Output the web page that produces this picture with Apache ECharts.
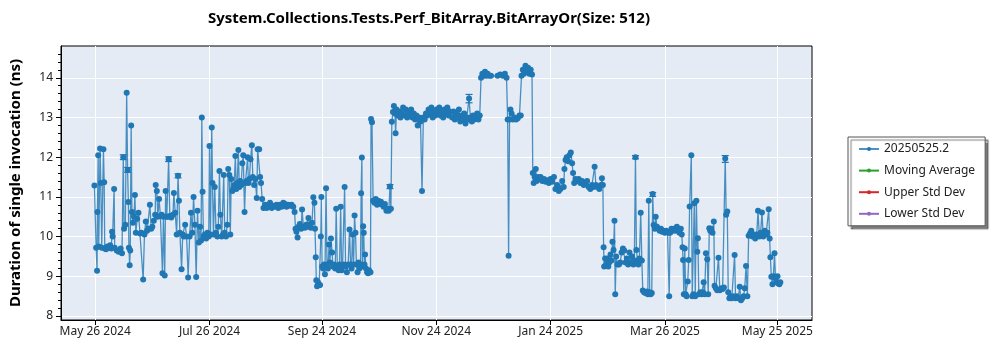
<!DOCTYPE html>
<html><head><meta charset="utf-8">
<script src="https://cdn.jsdelivr.net/npm/echarts@6/dist/echarts.min.js"></script>
<style>html,body{margin:0;padding:0;background:#fff}#c{width:1000px;height:350px}</style>
</head><body><div id="c"></div>
<script>
const chartTitle = 'System.Collections.Tests.Perf_BitArray.BitArrayOr(Size: 512)';
const yAxisTitle = 'Duration of single invocation (ns)';
const seriesNames = ['20250525.2', 'Moving Average', 'Upper Std Dev', 'Lower Std Dev'];
const seriesColors = ['#1f77b4', '#2ca02c', '#d62728', '#9467bd'];
const startDate = '2024-05-26';

// days after startDate for each measurement
const dayOffsets = [
-0.4,0.5,1.0,1.2,1.6,1.9,2.6,3.0,3.5,4.4,4.8,5.1,5.8,6.5,7.2,8.0,8.6,9.0,9.3,10.1,
10.4,11.5,12.5,13.6,14.3,15.0,15.4,16.1,16.8,17.3,17.7,18.0,18.4,18.7,19.2,19.6,20.1,20.7,21.2,21.7,
22.4,23.1,23.9,24.7,25.6,26.3,27.0,27.7,28.4,29.2,29.9,30.5,31.3,32.0,32.3,32.9,33.4,34.1,34.8,35.5,
35.9,36.4,37.1,37.6,38.2,38.7,39.2,39.8,40.6,41.5,42.0,42.7,43.5,44.2,44.7,45.2,46.1,46.7,47.3,48.0,
48.8,49.6,50.4,51.1,51.8,52.5,53.2,53.9,54.6,55.3,56.0,56.5,56.9,57.3,57.8,58.5,59.2,59.9,60.6,
61.0,61.5,62.2,62.6,63.1,63.8,64.5,65.2,65.7,66.3,66.8,67.5,68.2,68.6,69.1,69.8,70.5,71.0,71.6,72.1,
72.6,73.2,73.7,74.2,74.8,75.3,75.8,76.4,76.9,77.4,77.9,78.5,79.0,79.7,80.2,80.8,81.3,81.8,82.3,82.9,
83.6,84.1,84.8,85.4,86.2,86.7,87.5,88.0,88.5,89.1,89.8,90.7,91.5,92.4,93.3,94.2,95.1,96.0,96.8,97.7,
98.6,99.5,100.4,101.3,102.1,103.0,103.9,104.8,105.7,106.4,106.9,107.4,108.0,108.5,109.2,109.9,110.4,111.1,111.9,112.6,
113.3,113.8,114.3,115.1,115.7,116.4,117.0,117.3,117.7,118.0,118.4,118.9,119.5,120.0,120.4,120.7,121.1,121.6,122.1,122.6,
123.2,123.7,124.2,124.8,125.3,125.8,126.4,126.9,127.6,128.1,128.6,129.2,129.9,130.4,131.0,131.5,132.0,132.6,133.1,133.6,
134.3,135.0,135.7,136.3,136.8,137.3,137.9,138.4,138.9,139.4,140.0,140.5,141.0,141.6,141.9,142.3,142.6,143.0,143.3,143.7,
144.0,144.5,145.1,145.6,146.1,146.9,147.2,147.7,148.3,149.0,149.7,150.4,151.1,151.8,152.5,153.2,153.9,154.6,155.4,156.0,
156.7,157.3,157.8,158.3,158.9,159.4,159.9,160.3,160.8,161.5,162.2,162.9,163.6,164.3,165.1,165.8,166.5,167.2,167.9,168.6,
169.3,170.0,170.7,171.4,172.1,172.9,173.6,174.4,175.1,175.8,176.5,177.2,177.9,178.7,179.4,180.1,180.8,181.5,182.2,182.9,
183.6,184.3,185.0,185.7,186.4,187.2,187.9,188.6,189.3,190.5,191.2,191.9,192.6,193.4,194.1,194.8,195.5,196.2,196.9,197.6,
198.3,199.0,199.5,200.2,201.0,201.6,202.3,203.1,203.8,204.5,205.2,205.9,206.6,207.3,208.0,208.7,209.4,210.3,211.2,214.7,
216.1,217.5,218.6,219.5,220.1,220.6,221.1,221.6,222.2,222.9,223.8,224.6,225.5,226.4,227.1,227.5,228.2,228.8,229.6,230.3,
231.0,231.7,232.4,233.1,233.5,234.0,234.5,235.1,235.6,236.3,237.0,237.7,238.6,239.5,240.4,241.3,242.1,243.0,243.9,244.8,
245.6,246.5,247.4,248.3,249.2,250.0,250.4,251.0,251.6,252.4,253.1,253.8,254.5,255.0,255.6,256.3,257.2,258.0,258.9,259.8,
260.7,261.6,262.5,263.3,264.2,265.1,266.0,266.5,267.2,268.1,269.0,269.9,270.4,270.9,271.3,271.6,272.1,272.7,273.2,273.8,
274.3,275.0,275.5,276.0,276.6,277.1,277.5,278.0,278.7,279.5,280.2,280.9,281.6,282.3,283.0,283.7,284.4,285.1,285.8,286.5,
287.2,287.7,288.3,288.8,289.4,289.9,290.4,291.1,291.7,292.2,292.9,293.6,294.4,294.9,295.4,295.9,296.4,297.0,297.5,298.0,
298.6,299.1,299.8,300.5,301.2,301.9,302.6,303.3,304.0,304.7,305.4,305.9,306.3,306.8,307.5,308.2,308.9,309.7,310.4,311.1,
311.8,312.5,313.0,313.4,313.7,314.1,314.6,315.1,315.6,316.2,316.7,317.2,318.1,318.6,319.2,319.7,320.2,320.8,321.3,321.6,
322.1,322.9,323.6,324.3,324.7,325.2,325.9,326.6,327.1,327.7,328.2,328.7,329.4,330.1,330.5,331.2,331.9,332.6,333.3,334.1,
334.8,335.5,336.2,336.7,337.3,337.8,338.4,339.0,339.7,340.5,341.2,341.7,342.4,343.2,343.9,344.6,345.3,346.0,346.6,347.3,
348.0,348.7,349.4,350.1,350.8,351.5,352.2,353.0,353.7,354.4,355.1,355.8,356.5,357.3,358.0,358.7,359.4,359.9,360.3,360.8,
361.4,361.9,362.5,363.0,363.5,364.1,364.6,365.1,365.6
];

// duration of a single invocation (ns)
const durations = [
11.29,9.72,9.14,10.62,12.05,9.75,12.22,11.35,9.72,12.2,11.37,9.7,9.68,9.75,9.72,9.78,9.7,10.12,10.0,11.2,
9.72,9.65,9.62,9.7,9.58,12.0,10.2,10.3,13.62,11.68,10.87,9.72,9.28,9.65,12.8,10.62,10.35,10.5,11.05,10.1,
10.45,10.6,10.08,10.1,8.92,10.05,10.38,10.15,10.2,10.8,10.2,10.25,10.4,10.55,11.3,11.15,10.5,10.95,10.52,10.55,
9.08,10.5,9.02,11.15,10.5,10.5,11.95,10.52,10.48,10.55,11.1,10.6,10.05,11.53,10.9,10.1,9.18,10.05,10.0,10.3,
10.0,8.97,10.0,10.6,10.1,11.0,10.3,8.98,10.65,9.85,10.25,9.9,13.0,11.13,10.0,10.05,9.95,10.1,10.0,
12.28,10.05,12.75,11.35,10.05,11.25,10.1,10.0,10.25,11.65,10.55,10.0,10.05,11.55,10.1,10.0,10.3,11.7,11.55,10.05,
11.45,11.15,11.2,11.3,12.03,11.2,11.35,12.18,11.25,11.4,11.3,11.85,12.05,10.62,11.35,11.4,12.0,11.35,11.45,11.95,
12.3,11.5,11.3,11.45,10.97,12.2,12.2,11.5,11.35,10.95,10.72,10.8,10.72,10.78,10.85,10.72,10.78,10.75,10.8,10.72,
10.8,10.75,10.85,10.82,10.75,10.8,10.78,10.8,10.75,10.62,10.2,10.12,9.98,10.25,10.32,10.2,10.68,10.25,10.22,10.3,
10.25,10.47,10.3,10.22,10.35,10.99,10.85,10.2,9.48,8.9,8.75,8.85,8.78,8.78,10.0,11.0,9.25,9.2,9.3,9.05,
11.22,9.3,9.2,9.8,9.35,9.95,9.6,9.25,9.3,9.2,10.7,9.25,9.15,9.3,10.75,9.15,9.25,9.3,11.25,9.25,
9.1,9.3,10.18,9.3,9.2,10.05,9.3,10.53,10.1,9.3,9.1,9.35,9.2,9.3,11.09,11.99,9.25,10.26,10.1,9.3,
9.55,9.2,9.1,9.08,9.15,9.1,12.96,12.88,10.9,10.85,10.95,10.8,10.9,10.82,10.88,10.8,10.75,10.82,10.65,10.7,
10.65,11.26,10.7,12.89,13.14,13.29,13.1,12.6,13.2,13.05,13.15,13.0,13.1,13.25,13.05,13.2,13.0,13.15,13.05,13.2,
13.0,13.1,12.95,13.05,12.8,13.0,12.9,11.15,13.0,12.95,13.1,13.05,13.2,13.1,13.25,13.0,13.15,13.05,13.2,13.1,
13.25,13.05,13.15,13.0,13.2,13.1,13.25,13.05,13.15,13.0,13.15,12.95,13.1,13.0,13.2,12.9,13.05,12.95,13.1,12.85,
13.0,12.95,13.48,13.0,12.9,13.05,12.95,13.0,13.1,12.95,13.05,14.0,14.1,14.05,14.15,14.05,14.1,14.05,14.05,14.05,
14.08,14.05,14.1,14.0,12.95,9.52,12.95,13.2,13.1,12.95,13.0,12.95,12.98,13.05,13.05,14.05,14.2,14.1,14.3,14.15,
14.25,14.1,14.2,14.08,11.6,11.35,11.5,11.7,11.4,11.5,11.45,11.5,11.4,11.45,11.38,11.42,11.35,11.45,11.38,11.5,
11.2,11.3,11.15,11.2,11.4,11.25,11.7,11.93,12.0,11.9,12.05,12.12,11.85,11.6,11.35,11.45,11.4,11.45,11.35,11.4,
11.3,11.35,11.4,11.25,11.2,11.3,11.25,11.76,11.3,11.25,11.2,11.3,11.47,11.3,9.73,9.25,9.45,9.3,9.45,9.25,
9.35,9.55,9.4,9.87,9.66,10.4,8.55,9.5,9.3,9.3,9.35,9.6,9.7,9.65,9.35,9.45,9.3,9.6,9.35,9.5,
9.3,9.4,12.0,9.66,9.4,9.3,9.45,10.6,9.4,8.64,8.6,8.58,8.62,8.55,10.9,8.6,8.55,8.58,11.07,10.29,
10.2,10.5,10.25,10.2,10.15,10.2,10.12,10.15,10.1,10.15,10.12,10.1,8.5,10.1,10.2,10.15,10.2,10.15,10.25,10.2,
10.1,10.2,10.05,9.73,9.41,8.55,9.7,8.55,8.5,8.87,9.41,10.76,12.05,8.5,8.55,10.84,8.5,10.9,9.62,9.96,
8.55,8.6,8.55,8.6,8.85,8.55,9.58,9.43,8.55,10.21,10.15,10.2,10.1,10.38,8.76,8.7,8.65,9.47,8.65,8.7,
8.68,8.72,11.97,10.55,10.63,8.6,8.45,8.5,8.45,8.5,9.54,8.45,8.5,8.45,8.74,8.4,8.45,8.5,8.7,9.26,
8.5,10.02,10.08,10.15,10.0,10.05,9.95,10.05,10.65,10.0,10.1,10.61,10.0,10.15,10.05,10.1,10.69,9.95,9.48,8.99,
8.8,9.0,9.58,8.95,8.85,9.0,8.82,8.8,8.85
];

// visible error bars: day offset, low, high
const errorDays = [15.0, 17.3, 39.2, 44.2, 157.3, 199.5, 288.3, 297.5, 336.2];
const errorLow  = [11.94, 11.62, 11.89, 11.48, 11.21, 13.37, 11.96, 11.01, 11.87];
const errorHigh = [12.06, 11.74, 12.01, 11.58, 11.31, 13.58, 12.04, 11.11, 12.04];

const xTickDates = ['2024-05-26', '2024-07-26', '2024-09-24', '2024-11-24', '2025-01-24', '2025-03-26', '2025-05-25'];
const xTickLabels = ['May 26 2024', 'Jul 26 2024', 'Sep 24 2024', 'Nov 24 2024', 'Jan 24 2025', 'Mar 26 2025', 'May 25 2025'];
const yTickValues = [8, 9, 10, 11, 12, 13, 14];

const DAY = 86400000;
const t0 = Date.parse(startDate + 'T00:00:00Z');
const toTime = d => t0 + d * DAY;
const xTickTimes = xTickDates.map(s => Date.parse(s + 'T00:00:00Z'));
const mainData = dayOffsets.map((d, i) => [toTime(d), durations[i]]);
const errData = errorDays.map((d, i) => [toTime(d), errorLow[i], errorHigh[i]]);

const FONT = 'Noto Sans';
const chart = echarts.init(document.getElementById('c'), null, {renderer: 'canvas'});
chart.setOption({
  animation: false,
  backgroundColor: '#ffffff',
  textStyle: {fontFamily: FONT},
  title: {
    text: chartTitle, left: 208, top: 11, padding: 0,
    textStyle: {fontFamily: FONT, fontSize: 15, fontWeight: 'bold', color: '#000'}
  },
  grid: {
    left: 57, top: 46, width: 755, height: 274,
    show: true, backgroundColor: '#e5ebf5', borderColor: '#000', borderWidth: 1
  },
  legend: {
    data: seriesNames, orient: 'vertical', left: 848, top: 137,
    itemWidth: 20, itemHeight: 5, itemGap: 9.6,
    padding: [6, 10, 6, 10],
    backgroundColor: '#fff', borderColor: '#555', borderWidth: 1,
    shadowColor: 'rgba(0,0,0,0.5)', shadowOffsetX: 3, shadowOffsetY: 3, shadowBlur: 1,
    textStyle: {fontFamily: FONT, fontSize: 12, lineHeight: 12, color: '#222'}
  },
  xAxis: {
    type: 'value',
    min: toTime(-18.24), max: toTime(382.5),
    axisLine: {show: true, onZero: false, lineStyle: {color: '#000'}},
    axisTick: {show: true, length: 5, customValues: xTickTimes, lineStyle: {color: '#000'}},
    axisLabel: {
      customValues: xTickTimes, color: '#222', fontSize: 12, fontFamily: FONT, margin: 6,
      formatter: v => {
        let best = 0;
        xTickTimes.forEach((t, i) => { if (Math.abs(t - v) < Math.abs(xTickTimes[best] - v)) best = i; });
        return xTickLabels[best];
      }
    },
    splitLine: {show: true, lineStyle: {color: '#ffffff', width: 1}}
  },
  yAxis: {
    type: 'value', min: 7.9, max: 14.8,
    name: yAxisTitle, nameLocation: 'middle', nameGap: 38,
    nameTextStyle: {fontFamily: FONT, fontSize: 15, fontWeight: 'bold', color: '#000'},
    axisLine: {show: true, lineStyle: {color: '#000'}},
    axisTick: {show: true, length: 5, customValues: yTickValues, lineStyle: {color: '#000'}},
    minorTick: {show: true, splitNumber: 5, length: 3, lineStyle: {color: '#000'}},
    axisLabel: {customValues: yTickValues, color: '#222', fontSize: 12, fontFamily: FONT, margin: 8},
    splitLine: {show: true, lineStyle: {color: '#ffffff', width: 1}}
  },
  series: [
    {
      name: seriesNames[0], type: 'line', data: mainData,
      symbol: 'circle', symbolSize: 6, showSymbol: true,
      itemStyle: {color: seriesColors[0]},
      lineStyle: {color: seriesColors[0], width: 1.3, opacity: 0.8},
      z: 3
    },
    {name: seriesNames[1], type: 'line', data: [], symbol: 'circle', itemStyle: {color: seriesColors[1]}, lineStyle: {color: seriesColors[1], width: 1.3}},
    {name: seriesNames[2], type: 'line', data: [], symbol: 'circle', itemStyle: {color: seriesColors[2]}, lineStyle: {color: seriesColors[2], width: 1.3}},
    {name: seriesNames[3], type: 'line', data: [], symbol: 'circle', itemStyle: {color: seriesColors[3]}, lineStyle: {color: seriesColors[3], width: 1.3}},
    {
      type: 'custom', data: errData, z: 2, silent: true,
      renderItem: (params, api) => {
        const lo = api.coord([api.value(0), api.value(1)]);
        const hi = api.coord([api.value(0), api.value(2)]);
        const w = 3.5;
        const st = {stroke: seriesColors[0], lineWidth: 1.2};
        return {type: 'group', children: [
          {type: 'line', shape: {x1: lo[0], y1: lo[1], x2: hi[0], y2: hi[1]}, style: st},
          {type: 'line', shape: {x1: lo[0] - w, y1: lo[1], x2: lo[0] + w, y2: lo[1]}, style: st},
          {type: 'line', shape: {x1: hi[0] - w, y1: hi[1], x2: hi[0] + w, y2: hi[1]}, style: st}
        ]};
      }
    }
  ]
});
</script>
</body></html>
